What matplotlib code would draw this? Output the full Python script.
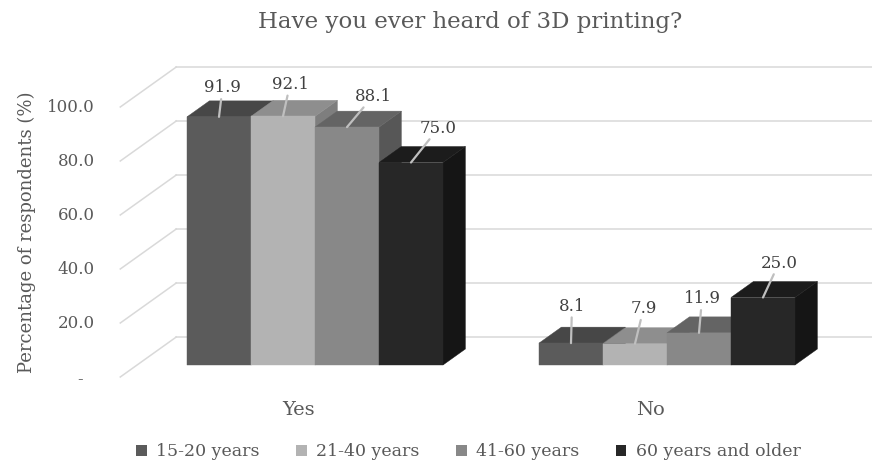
import matplotlib.pyplot as plt
from matplotlib.patches import Polygon, Patch

# Данные опроса
categories = ['Yes', 'No']
series_names = ['15-20 years', '21-40 years', '41-60 years', '60 years and older']
values = {
    '15-20 years': [91.9, 8.1],
    '21-40 years': [92.1, 7.9],
    '41-60 years': [88.1, 11.9],
    '60 years and older': [75.0, 25.0],
}
y_ticks = [0, 20, 40, 60, 80, 100]
y_tick_labels = ['-', '20.0', '40.0', '60.0', '80.0', '100.0']

# Цвета граней: лицевая, верхняя, боковая
face_colors = {
    '15-20 years': ('#5b5b5b', '#474747', '#404040'),
    '21-40 years': ('#b3b3b3', '#8e8e8e', '#7e7e7e'),
    '41-60 years': ('#888888', '#646464', '#575757'),
    '60 years and older': ('#272727', '#1c1c1c', '#151515'),
}

# Масштаб: пикселей на единицу по x (ширина столбца) и на 1% по y
PX_X = 64.0
PX_Y = 2.7
SLANT = 1.4          # смещение по x на 1 px глубины
BAR_DEPTH = 16       # глубина столбца, px
WALL_FRONT = -12     # передний край стенки относительно столбцов, px
WALL_BACK = 28       # задняя стенка, px
WALL_X = -0.78       # левая стенка в плоскости столбцов
group_start = [0.0, 5.5]

W, H = 872, 466
BASE_X, BASE_Y = 187, 365  # положение начала координат в пикселях


def shift(x, v, d):
    """Сдвиг точки на глубину d (px) в косоугольной проекции"""
    return x + SLANT * d / PX_X, v + d / PX_Y


plt.rcParams['font.family'] = ['DejaVu Serif']
TEXT = '#595959'

fig = plt.figure(figsize=(W / 100, H / 100), dpi=100)
ax = fig.add_axes([0, 0, 1, 1])
ax.set_xlim(-BASE_X / PX_X, (W - BASE_X) / PX_X)
ax.set_ylim((BASE_Y - H) / PX_Y, BASE_Y / PX_Y)
ax.axis('off')

grid_color = '#d9d9d9'
x_right = (W - BASE_X) / PX_X

# Стенки: горизонтальные линии сетки сзади и диагонали слева
for v in y_ticks:
    xf, vf = shift(WALL_X, v, WALL_FRONT)
    xb, vb = shift(WALL_X, v, WALL_BACK)
    ax.plot([xf, xb], [vf, vb], color=grid_color, lw=1.1, zorder=1)
    ax.plot([xb, x_right], [vb, vb], color=grid_color, lw=1.1, zorder=1)

# Подписи оси Y на переднем крае стенки
for v, lab in zip(y_ticks, y_tick_labels):
    vf = v + WALL_FRONT / PX_Y
    if lab == '-':
        ax.text((80 - BASE_X) / PX_X, vf - 1, lab, ha='center', va='center',
                fontsize=12, color=TEXT)
    else:
        ax.text((95 - BASE_X) / PX_X, vf, lab, ha='right', va='center',
                fontsize=12, color=TEXT)

# Смещения подписей данных относительно вершины столбца (px)
label_offsets = [
    [(3.5, -29), (7, -32), (26, -31), (27.5, -34.5)],
    [(1, -37), (8.5, -35), (3, -34), (16, -34.5)],
]

# Столбцы
z = 2
for g, cat in enumerate(categories):
    for i, name in enumerate(series_names):
        v = values[name][g]
        x0 = group_start[g] + i
        x1 = x0 + 1
        front, top, side = face_colors[name]
        pts_front = [(x0, 0), (x1, 0), (x1, v), (x0, v)]
        pts_top = [(x0, v), (x1, v), shift(x1, v, BAR_DEPTH), shift(x0, v, BAR_DEPTH)]
        pts_side = [(x1, 0), shift(x1, 0, BAR_DEPTH), shift(x1, v, BAR_DEPTH), (x1, v)]
        for pts, c in [(pts_side, side), (pts_top, top), (pts_front, front)]:
            ax.add_patch(Polygon(pts, closed=True, facecolor=c, edgecolor=c,
                                 lw=0.3, zorder=z))
        z += 1

# Подписи данных с выносками
for g, cat in enumerate(categories):
    for i, name in enumerate(series_names):
        v = values[name][g]
        xc = group_start[g] + i + 0.5
        dx, dy = label_offsets[g][i]
        ax.annotate(f'{v:.1f}', xy=(xc, v), xytext=(dx * 0.72, -dy * 0.72),
                    textcoords='offset points', ha='center', va='center',
                    fontsize=12, color='#404040', zorder=20,
                    arrowprops=dict(arrowstyle='-', color='#bfbfbf', lw=1.6,
                                    shrinkA=0, shrinkB=0))

# Подписи категорий (по переднему краю основания)
for g, cat in enumerate(categories):
    xc, _ = shift(group_start[g] + 2, 0, WALL_FRONT)
    ax.text(xc, (BASE_Y - 410) / PX_Y, cat, ha='center',
            va='center', fontsize=14, color=TEXT)

fig.text(27 / W, 1 - 232 / H, 'Percentage of respondents (%)', rotation=90,
         ha='center', va='center', fontsize=13, color=TEXT)
fig.text(470 / W, 1 - 22 / H, 'Have you ever heard of 3D printing?',
         ha='center', va='center', fontsize=16.5, color=TEXT)

handles = [Patch(facecolor=face_colors[n][0], edgecolor='none', label=n)
           for n in series_names]
fig.legend(handles=handles, loc='center', bbox_to_anchor=(468.5 / W, 1 - 452 / H),
           ncol=4, frameon=False, fontsize=12.5, handlelength=0.6,
           handleheight=0.6, handletextpad=0.55, columnspacing=2.1,
           labelcolor=TEXT)

plt.savefig('out.png', dpi=100)
